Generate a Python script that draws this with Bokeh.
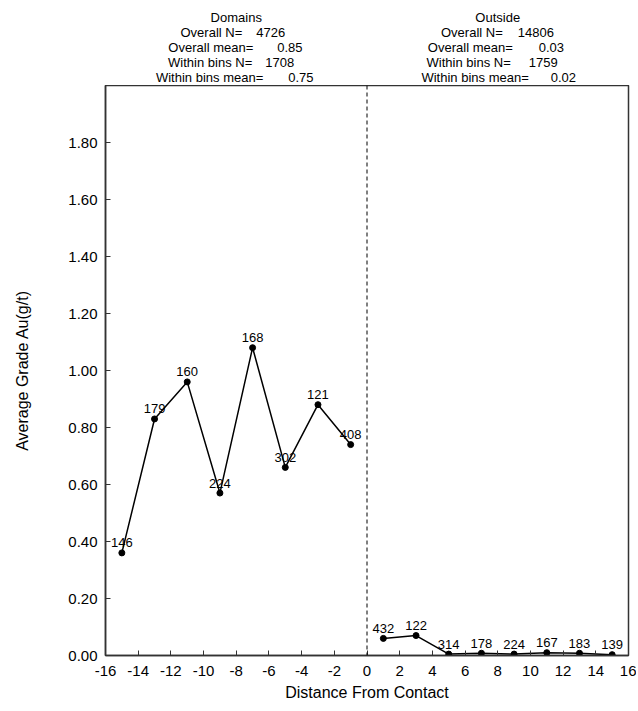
from bokeh.plotting import figure
from bokeh.layouts import column
from bokeh.models import FixedTicker, NumeralTickFormatter, ColumnDataSource, Range1d, CustomJSTickFormatter, Span
from bokeh.core.properties import value
from bokeh.embed import file_html
from bokeh.resources import INLINE

# ---- data ----
dom_x = [-15, -13, -11, -9, -7, -5, -3, -1]
dom_y = [0.36, 0.83, 0.96, 0.57, 1.08, 0.66, 0.88, 0.74]
dom_n = ["146", "179", "160", "224", "168", "302", "121", "408"]

out_x = [1, 3, 5, 7, 9, 11, 13, 15]
out_y = [0.06, 0.07, 0.005, 0.008, 0.005, 0.01, 0.008, 0.003]
out_n = ["432", "122", "314", "178", "224", "167", "183", "139"]

x_ticks = list(range(-16, 17, 2))
y_ticks = [0.0, 0.2, 0.4, 0.6, 0.8, 1.0, 1.2, 1.4, 1.6, 1.8]

stats_lbl = ["Overall N=", "Overall mean=", "Within bins N=", "Within bins mean="]
dom_title = "Domains"
dom_stats_val = ["4726", "0.85", "1708", "0.75"]
out_title = "Outside"
out_stats_val = ["14806", "0.03", "1759", "0.02"]

FONT = "Liberation Sans"
INK = "#333333"

# layout (pixels)
W = 636
HEAD_H = 85
MAIN_H = 620
LEFT, RIGHT, BOTTOM = 105, 8, 50

xr = Range1d(-16, 16)

# ---- header strip (stats text) ----
head = figure(width=W, height=HEAD_H, output_backend="svg", toolbar_location=None,
              x_range=xr, y_range=Range1d(0, HEAD_H),
              x_axis_location=None, y_axis_location=None,
              min_border_left=LEFT, min_border_right=RIGHT, min_border_top=0,
              min_border_bottom=0)
head.grid.visible = False
head.outline_line_color = None
head.border_fill_color = "white"

def hy(py):
    return HEAD_H - py

title_py = 17
row_py = [32, 47, 62, 77]
for cx, title, vals, offs in (
        (-8, dom_title, dom_stats_val, [(6, 20), (17, 41), (16, 29), (27, 52)]),
        (8, out_title, out_stats_val, [(5, 20), (15, 41), (13, 31), (31, 53)])):
    head.text(x=[cx], y=[hy(title_py)], text=[title], text_font=value(FONT),
              text_font_size="13px", text_align="center", text_baseline="middle",
              text_color="black")
    for lbl, val, py, (o1, o2) in zip(stats_lbl, vals, row_py, offs):
        head.text(x=[cx], y=[hy(py)], text=[lbl], x_offset=o1, text_font=value(FONT),
                  text_font_size="13px", text_align="right", text_baseline="middle",
                  text_color="black")
        head.text(x=[cx], y=[hy(py)], text=[val], x_offset=o2, text_font=value(FONT),
                  text_font_size="13px", text_align="left", text_baseline="middle",
                  text_color="black")

# ---- main plot ----
p = figure(width=W, height=MAIN_H, output_backend="svg", toolbar_location=None,
           x_range=xr, y_range=Range1d(0, 2.0),
           min_border_left=LEFT, min_border_right=RIGHT, min_border_top=0,
           min_border_bottom=BOTTOM)
p.grid.visible = False
p.outline_line_color = INK
p.outline_line_width = 1.5
p.background_fill_color = "white"
p.border_fill_color = "white"

for ax in (p.xaxis[0], p.yaxis[0]):
    ax.major_tick_in = 5
    ax.major_tick_out = 0
    ax.minor_tick_in = 0
    ax.minor_tick_out = 0
    ax.major_tick_line_color = INK
    ax.major_tick_line_width = 1
    ax.axis_line_color = INK
    ax.axis_line_width = 1.5
    ax.major_label_text_font = FONT
    ax.major_label_text_font_size = "15px"
    ax.major_label_text_color = "black"
    ax.axis_label_text_font = FONT
    ax.axis_label_text_font_size = "16px"
    ax.axis_label_text_font_style = "normal"
    ax.axis_label_text_color = "black"

p.xaxis.ticker = FixedTicker(ticks=x_ticks)
p.yaxis.ticker = FixedTicker(ticks=y_ticks)
p.xaxis.formatter = CustomJSTickFormatter(code="return tick.toFixed(0);")
p.yaxis.formatter = NumeralTickFormatter(format="0.00")
p.xaxis.axis_label = "Distance From Contact"
p.yaxis.axis_label = "Average Grade Au(g/t)"
p.xaxis.major_label_standoff = 10
p.yaxis.major_label_standoff = 8
p.xaxis.axis_label_standoff = 5
p.yaxis.axis_label_standoff = 34

p.add_layout(Span(location=0, dimension="height", line_color="black",
                  line_width=1, line_dash="4 3"))

for xs, ys, ns in ((dom_x, dom_y, dom_n), (out_x, out_y, out_n)):
    src = ColumnDataSource(dict(x=xs, y=ys, n=ns))
    p.line("x", "y", source=src, line_color="black", line_width=1.5)
    p.scatter("x", "y", source=src, size=6, color="black")
    p.text("x", "y", text="n", source=src, text_font=value(FONT),
           text_font_size="13px", text_align="center", text_baseline="middle",
           y_offset=-10, text_color="black")

layout = column(head, p, spacing=0)
open("out.html", "w").write(file_html(layout, INLINE))
